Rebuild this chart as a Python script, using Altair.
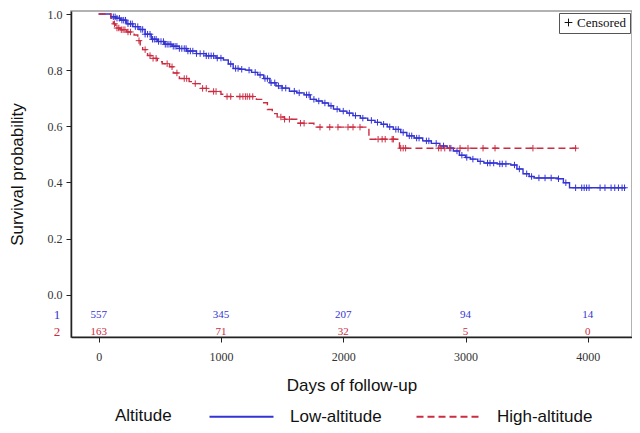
import altair as alt
import pandas as pd

# ---------------- data ----------------
groups = ["Low-altitude", "High-altitude"]

low_t = [0, 100, 140, 180, 230, 280, 330, 380, 430, 480, 540, 600, 660, 720, 800, 880,
         960, 1020, 1060, 1100, 1150, 1200, 1250, 1300, 1350, 1400, 1450, 1500, 1560,
         1620, 1680, 1730, 1780, 1830, 1880, 1920, 1970, 2030, 2080, 2140, 2200, 2260,
         2310, 2360, 2410, 2470, 2520, 2580, 2650, 2720, 2790, 2850, 2900, 2950, 3000,
         3040, 3100, 3150, 3260, 3370, 3420, 3470, 3520, 3560, 3750, 3800, 3850, 4310]
low_s = [1.0, 0.99, 0.985, 0.978, 0.965, 0.955, 0.945, 0.928, 0.91, 0.902, 0.892, 0.885,
         0.877, 0.868, 0.859, 0.851, 0.843, 0.836, 0.822, 0.806, 0.803, 0.80, 0.792, 0.783,
         0.77, 0.755, 0.744, 0.736, 0.725, 0.719, 0.712, 0.696, 0.69, 0.683, 0.673, 0.661,
         0.654, 0.647, 0.638, 0.629, 0.621, 0.614, 0.607, 0.598, 0.589, 0.578, 0.566, 0.558,
         0.548, 0.539, 0.53, 0.522, 0.512, 0.497, 0.489, 0.483, 0.475, 0.469, 0.466, 0.462,
         0.448, 0.431, 0.421, 0.416, 0.413, 0.399, 0.381, 0.381]

high_t = [0, 100, 120, 140, 180, 230, 290, 320, 340, 360, 400, 430, 480, 520, 580, 610,
          660, 740, 780, 830, 900, 1000, 1040, 1290, 1340, 1380, 1420, 1460, 1520, 1620,
          1760, 2210, 2460, 3910]
high_s = [1.0, 0.985, 0.965, 0.95, 0.944, 0.936, 0.925, 0.905, 0.885, 0.873, 0.852, 0.842,
          0.83, 0.823, 0.812, 0.79, 0.77, 0.759, 0.752, 0.735, 0.724, 0.714, 0.706, 0.696,
          0.684, 0.66, 0.645, 0.633, 0.625, 0.611, 0.597, 0.554, 0.522, 0.522]

low_cens = [120, 135, 150, 170, 190, 205, 220, 240, 260, 275, 300, 320, 345, 360, 380, 400,
            420, 440, 455, 470, 490, 510, 530, 545, 560, 575, 590, 610, 625, 640, 660, 680,
            700, 715, 730, 750, 770, 800, 830, 860, 880, 900, 920, 940, 970, 1000, 1080,
            1120, 1140, 1170, 1230, 1280, 1320, 1360, 1380, 1410, 1440, 1470, 1500, 1530,
            1600, 1640, 1700, 1720, 1760, 1800, 1850, 1900, 1950, 2000, 2050, 2100, 2160,
            2230, 2280, 2330, 2380, 2430, 2450, 2490, 2540, 2560, 2600, 2620, 2680, 2700,
            2760, 2820, 2880, 2930, 2970, 3010, 3060, 3120, 3180, 3200, 3230, 3280, 3300,
            3330, 3400, 3440, 3500, 3540, 3600, 3650, 3700, 3760, 3820, 3900, 3950, 3970,
            3990, 4010, 4100, 4140, 4190, 4220, 4250, 4280, 4300]
high_cens = [130, 150, 165, 185, 200, 215, 240, 260, 330, 380, 420, 445, 470, 560, 600, 640,
             700, 720, 790, 850, 880, 940, 960, 1050, 1080, 1155, 1180, 1200, 1215, 1235,
             1260, 1490, 1520, 1560, 1650, 1680, 1810, 1890, 1957, 2039, 2080, 2137, 2285,
             2318, 2343, 2400, 2410, 2470, 2490, 2510, 2780, 2800, 2830, 2870, 2955, 3020,
             3143, 3241, 3551, 3900]

risk_days = [0, 1000, 2000, 3000, 4000]
risk_low = [557, 345, 207, 94, 14]
risk_high = [163, 71, 32, 5, 0]
risk_row_y = {"1": -0.072, "2": -0.132}

BLUE = "#3434d4"
RED = "#cc2c42"
SERIF = "Liberation Serif"
SANS = "Liberation Sans"

# ---------------- tables ----------------
def step_value(ts, ss, t):
    v = ss[0]
    for ti, si in zip(ts, ss):
        if ti <= t:
            v = si
    return v

curve = pd.DataFrame(
    [{"day": t, "surv": s, "Altitude": groups[0]} for t, s in zip(low_t, low_s)]
    + [{"day": t, "surv": s, "Altitude": groups[1]} for t, s in zip(high_t, high_s)]
)
cens = pd.DataFrame(
    [{"day": t, "surv": step_value(low_t, low_s, t), "Altitude": groups[0], "c": "Censored"} for t in low_cens]
    + [{"day": t, "surv": step_value(high_t, high_s, t), "Altitude": groups[1], "c": "Censored"} for t in high_cens]
)
risk_1 = pd.DataFrame({"day": risk_days, "n": [str(n) for n in risk_low], "y": risk_row_y["1"]})
risk_2 = pd.DataFrame({"day": risk_days, "n": [str(n) for n in risk_high], "y": risk_row_y["2"]})
row_1 = pd.DataFrame({"row": ["1"], "y": [risk_row_y["1"]]})
row_2 = pd.DataFrame({"row": ["2"], "y": [risk_row_y["2"]]})

xscale = alt.Scale(domain=[-226, 4361], nice=False, zero=False)
yscale = alt.Scale(domain=[-0.1507, 1.0107], nice=False, zero=False)
color_scale = alt.Scale(domain=groups, range=[BLUE, RED])
dash_scale = alt.Scale(domain=groups, range=[[1, 0], [7, 4]])

x_enc = alt.X("day:Q", scale=xscale,
              axis=alt.Axis(values=risk_days, title="Days of follow-up", format="d",
                            grid=False, labelFont=SERIF, labelFontSize=12, labelColor="#333",
                            titleFont=SANS, titleFontSize=17, titleFontWeight="normal",
                            titleColor="#111", titlePadding=15, tickSize=5, labelPadding=9,
                            domainColor="#222", domainWidth=1.5, tickColor="#222"))
y_enc = alt.Y("surv:Q", scale=yscale,
              axis=alt.Axis(values=[0, 0.2, 0.4, 0.6, 0.8, 1.0], format=".1f",
                            title="Survival probability", grid=False, labelFont=SERIF,
                            labelFontSize=12, labelColor="#333", titleFont=SANS,
                            titleFontSize=17, titleFontWeight="normal", titleColor="#111",
                            titlePadding=21, tickSize=5, labelPadding=4,
                            domainColor="#222", domainWidth=1.5, tickColor="#222"))

legend_cfg = dict(orient="none", legendX=44, legendY=372, direction="horizontal",
                  titleOrient="left", titleAnchor="end", titleBaseline="bottom",
                  symbolType="stroke", symbolSize=4096, symbolStrokeWidth=2.2,
                  titleFont=SANS, titleFontSize=17, titleFontWeight="normal",
                  titleColor="#111", labelFont=SANS, labelFontSize=17, labelColor="#111",
                  titlePadding=36, labelOffset=15, columnPadding=30)

lines = alt.Chart(curve).mark_line(interpolate="step-after", strokeWidth=1.4).encode(
    x=x_enc, y=y_enc,
    color=alt.Color("Altitude:N", scale=color_scale, title="Altitude",
                    legend=alt.Legend(**legend_cfg)),
    strokeDash=alt.StrokeDash("Altitude:N", scale=dash_scale, title="Altitude",
                              legend=alt.Legend(**legend_cfg)),
)

points = alt.Chart(cens).mark_point(filled=False, strokeWidth=1, opacity=1).encode(
    x="day:Q", y="surv:Q",
    color=alt.Color("Altitude:N", scale=color_scale, legend=None),
    shape=alt.Shape("c:N", scale=alt.Scale(domain=["Censored"], range=["M-1,0H1M0,-1V1"]),
                    legend=alt.Legend(title=None, orient="top-right", offset=2,
                                      strokeColor="#555", padding=3, labelFont=SERIF,
                                      labelFontSize=13, labelColor="#111",
                                      symbolStrokeColor="#111", symbolSize=60,
                                      symbolStrokeWidth=1, labelOffset=2)),
    size=alt.value(42),
)

risk_text_1 = alt.Chart(risk_1).mark_text(font=SERIF, fontSize=11, color=BLUE).encode(
    x="day:Q", y="y:Q", text="n:N")
risk_text_2 = alt.Chart(risk_2).mark_text(font=SERIF, fontSize=11, color=RED).encode(
    x="day:Q", y="y:Q", text="n:N")
row_text_1 = alt.Chart(row_1).mark_text(font=SERIF, fontSize=13, color=BLUE).encode(
    x=alt.value(-14), y="y:Q", text="row:N")
row_text_2 = alt.Chart(row_2).mark_text(font=SERIF, fontSize=13, color=RED).encode(
    x=alt.value(-14), y="y:Q", text="row:N")

chart = alt.layer(lines, points, risk_text_1, risk_text_2, row_text_1, row_text_2).properties(
    width=561, height=326,
    autosize=alt.AutoSizeParams(type="none"),
    padding={"left": 63, "top": 3, "right": 0, "bottom": 88},
).configure_view(stroke="#999", strokeWidth=1.5)

chart.save("out.html", embed_options={"renderer": "svg", "actions": False})
